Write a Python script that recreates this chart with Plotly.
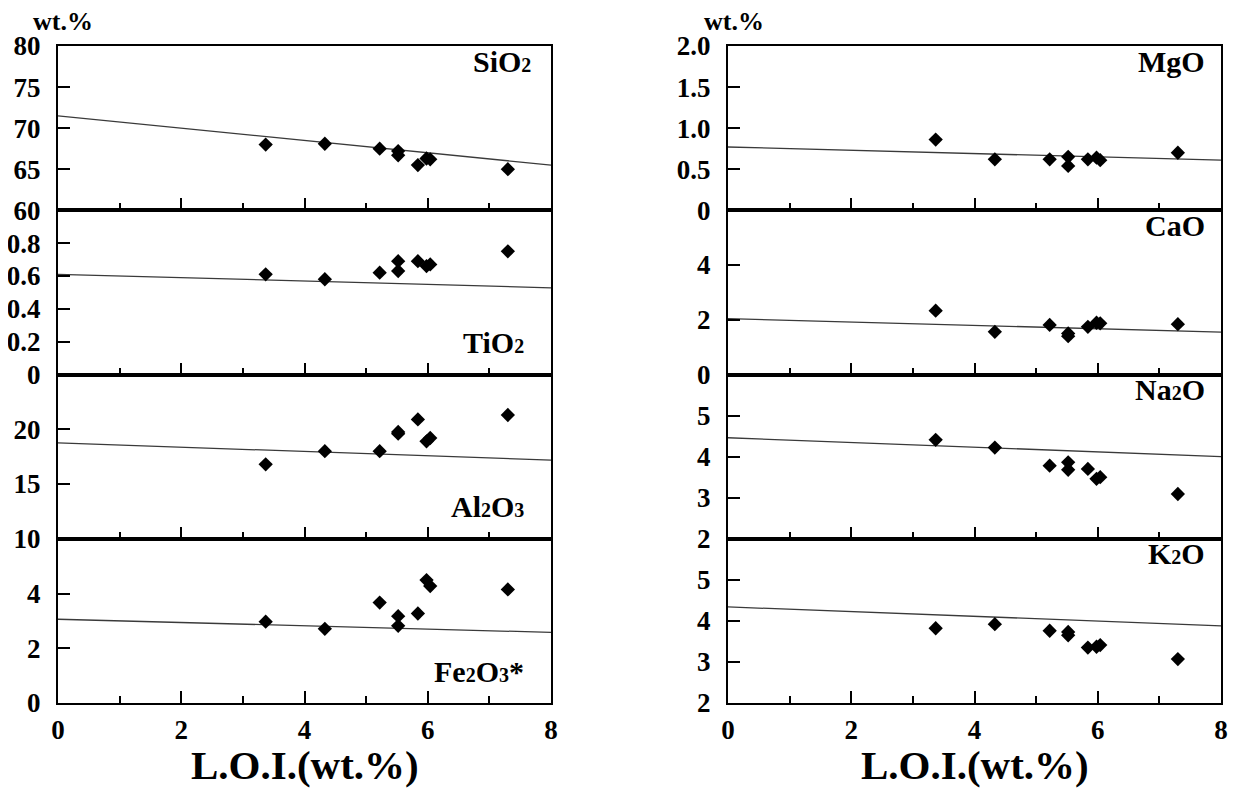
import plotly.graph_objects as go

# ---------------- data ----------------
loi = [3.37, 4.33, 5.22, 5.52, 5.52, 5.84, 5.98, 6.04, 7.30]

sio2 = [68.0, 68.1, 67.5, 67.2, 66.7, 65.5, 66.3, 66.2, 65.0]
tio2 = [0.61, 0.58, 0.62, 0.69, 0.63, 0.69, 0.66, 0.67, 0.75]
al2o3 = [16.8, 18.0, 18.0, 19.75, 19.6, 20.9, 18.9, 19.2, 21.3]
fe2o3 = [2.97, 2.71, 3.67, 3.17, 2.82, 3.27, 4.49, 4.27, 4.15]
mgo = [0.86, 0.62, 0.62, 0.65, 0.54, 0.62, 0.64, 0.61, 0.70]
cao = [2.33, 1.56, 1.81, 1.50, 1.40, 1.74, 1.89, 1.87, 1.84]
na2o = [4.41, 4.22, 3.78, 3.86, 3.68, 3.70, 3.46, 3.50, 3.09]
k2o = [3.82, 3.92, 3.76, 3.73, 3.65, 3.35, 3.37, 3.41, 3.07]

line_x = [0, 8]
sio2_line = [71.5, 65.5]
tio2_line = [0.61, 0.528]
al2o3_line = [18.76, 17.18]
fe2o3_line = [3.06, 2.58]
mgo_line = [0.77, 0.61]
cao_line = [2.04, 1.55]
na2o_line = [4.46, 4.00]
k2o_line = [4.34, 3.88]

x_ticks = [0, 2, 4, 6, 8]

sub = "<span style='font-size:20px'>{}</span>"
panels = [
    # (values, line, yrange, tickvals, ticktext, label, col, row, label_pos)
    (sio2, sio2_line, [60, 80], [60, 65, 70, 75, 80], ["60", "65", "70", "75", "80"],
     "SiO" + sub.format("2"), 0, 0, "top"),
    (tio2, tio2_line, [0, 1.0], [0, 0.2, 0.4, 0.6, 0.8], ["0", "0.2", "0.4", "0.6", "0.8"],
     "TiO" + sub.format("2"), 0, 1, "bottom"),
    (al2o3, al2o3_line, [10, 25], [10, 15, 20], ["10", "15", "20"],
     "Al" + sub.format("2") + "O" + sub.format("3"), 0, 2, "bottom"),
    (fe2o3, fe2o3_line, [0, 6], [0, 2, 4], ["0", "2", "4"],
     "Fe" + sub.format("2") + "O" + sub.format("3") + "*", 0, 3, "bottom"),
    (mgo, mgo_line, [0, 2.0], [0, 0.5, 1.0, 1.5, 2.0], ["0", "0.5", "1.0", "1.5", "2.0"],
     "MgO", 1, 0, "top"),
    (cao, cao_line, [0, 6], [0, 2, 4], ["0", "2", "4"],
     "CaO", 1, 1, "top"),
    (na2o, na2o_line, [2, 6], [2, 3, 4, 5], ["2", "3", "4", "5"],
     "Na" + sub.format("2") + "O", 1, 2, "top"),
    (k2o, k2o_line, [2, 6], [2, 3, 4, 5], ["2", "3", "4", "5"],
     "K" + sub.format("2") + "O", 1, 3, "top"),
]

W, H = 1239, 792
OX, OY = 8, 8  # page offset of the plot div (body margin)
col_px = [(58, 551), (728, 1221)]
top_px, bottom_px = 46, 703
ph = (bottom_px - top_px) / 4.0


def fx(px):
    return (px - OX) / W


def fy(py):
    return (H - (py - OY)) / H


FONT = "Liberation Serif, Times New Roman, serif"

fig = go.Figure()
layout = dict(
    template="none",
    width=W, height=H,
    margin=dict(l=0, r=0, t=0, b=0, pad=0, autoexpand=False),
    paper_bgcolor="white", plot_bgcolor="white",
    showlegend=False,
    font=dict(family=FONT, color="black"),
)
annotations = []

for i, (vals, lvals, yr, tv, tt, label, col, row, lpos) in enumerate(panels):
    n = i + 1
    xs = "x" if n == 1 else f"x{n}"
    ys = "y" if n == 1 else f"y{n}"
    xa = "xaxis" if n == 1 else f"xaxis{n}"
    ya = "yaxis" if n == 1 else f"yaxis{n}"
    t = top_px + row * ph
    b = t + ph
    x0, x1 = col_px[col]
    fig.add_trace(go.Scatter(x=line_x, y=lvals, mode="lines", xaxis=xs, yaxis=ys,
                             line=dict(color="#3a3a3a", width=1.3), hoverinfo="skip"))
    fig.add_trace(go.Scatter(x=loi, y=vals, mode="markers", xaxis=xs, yaxis=ys,
                             marker=dict(symbol="diamond", size=11, color="black",
                                         line=dict(width=0))))
    bottom_row = (row == 3)
    layout[xa] = dict(
        domain=[fx(x0), fx(x1)], anchor=ys, range=[0, 8], automargin=False,
        tickvals=x_ticks, ticktext=[str(v) for v in x_ticks],
        ticks="inside", ticklen=12, tickwidth=2, tickcolor="black",
        minor=dict(ticks="inside", ticklen=7, tickwidth=2, tickcolor="black", dtick=1, tick0=0),
        showticklabels=bottom_row, ticklabelstandoff=2,
        tickfont=dict(family=FONT, size=27, color="black", weight="bold"),
        showline=True, linecolor="black", linewidth=2, mirror=True,
        showgrid=False, zeroline=False, fixedrange=True,
    )
    layout[ya] = dict(
        domain=[fy(b), fy(t)], anchor=xs, range=yr, automargin=False,
        tickvals=tv, ticktext=tt,
        ticks="inside", ticklen=12, tickwidth=2, tickcolor="black",
        ticklabelstandoff=10,
        tickfont=dict(family=FONT, size=27, color="black", weight="bold"),
        showline=True, linecolor="black", linewidth=2, mirror=True,
        showgrid=False, zeroline=False, fixedrange=True,
    )
    # panel label
    rx = (1207 if col == 1 else (526 if lpos == "bottom" else 533))
    ly = (t + 15) if lpos == "top" else (b - 32)
    annotations.append(dict(
        text=label, xref="paper", yref="paper", x=fx(rx), y=fy(ly),
        xanchor="right", yanchor="middle", showarrow=False,
        font=dict(family=FONT, size=30, color="black", weight="bold"),
    ))

# wt.% labels
for cx in (63, 734):
    annotations.append(dict(
        text="wt.%", xref="paper", yref="paper", x=fx(cx), y=fy(21),
        xanchor="center", yanchor="middle", showarrow=False,
        font=dict(family=FONT, size=26, color="black", weight="bold"),
    ))
# x-axis titles
for (x0, x1) in col_px:
    annotations.append(dict(
        text="L.O.I.(wt.%)", xref="paper", yref="paper", x=fx((x0 + x1) / 2), y=fy(765),
        xanchor="center", yanchor="middle", showarrow=False,
        font=dict(family=FONT, size=41, color="black", weight="bold"),
    ))

layout["annotations"] = annotations
fig.update_layout(**layout)
fig.write_html("out.html")
